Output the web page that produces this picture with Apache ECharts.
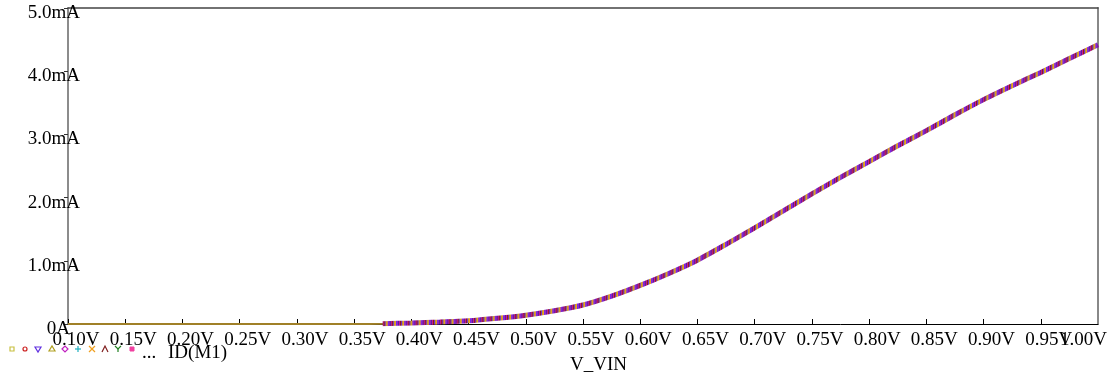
<!DOCTYPE html>
<html>
<head>
<meta charset="utf-8">
<script src="https://cdn.jsdelivr.net/npm/echarts@6/dist/echarts.min.js"></script>
<style>html,body{margin:0;padding:0;background:#fff}#c{width:1118px;height:381px}</style>
</head>
<body>
<div id="c"></div>
<script>
// Data (V_VIN in volts, ID(M1) in mA)
const vin = [0.10,0.15,0.20,0.25,0.30,0.35,0.375,0.40,0.425,0.45,0.475,0.50,0.525,0.55,0.575,0.60,0.625,0.65,0.675,0.70,0.725,0.75,0.775,0.80,0.825,0.85,0.875,0.90,0.925,0.95,0.975,1.00];
const idM1 = [0,0,0,0,0,0,0.005,0.015,0.03,0.05,0.09,0.14,0.21,0.30,0.44,0.61,0.80,1.01,1.26,1.52,1.79,2.06,2.32,2.57,2.82,3.06,3.31,3.55,3.77,3.98,4.20,4.42];
const markerStart = 0.375;
const traceName = 'ID(M1)';
const xTitle = 'V_VIN';
const lastTick = '1.00V';

const chart = echarts.init(document.getElementById('c'));
const FONT = 'Liberation Serif';
const lineData = vin.map((v,i)=>[v, idM1[i]]);
const markerData = lineData.filter(p => p[0] >= markerStart);

// multicolor band (style only)
const cols = ['#6a2cf0','#d01890','#1c8a2a','#c8a020','#2030c0','#a020c0','#20a0b0','#8a1a1a','#f0a020','#e040a0','#5020a0','#303030','#7030d0','#b02080'];
const stops = [];
const N = 700;
for (let i = 0; i <= N; i++) {
  stops.push({offset: i / N, color: cols[(i * 5 + (i >> 2)) % cols.length]});
}
const grad = new echarts.graphic.LinearGradient(380, 0, 1100, 0, stops, true);

const leg = [];
const lx = [12,25,38,52,65,78,92,105,118,132], ly = 349;
leg.push({type:'rect', shape:{x:lx[0]-2,y:ly-2,width:4,height:4}, style:{fill:'none',stroke:'#c8c040',lineWidth:1.2}});
leg.push({type:'circle', shape:{cx:lx[1],cy:ly,r:2}, style:{fill:'none',stroke:'#cc2020',lineWidth:1.2}});
leg.push({type:'polygon', shape:{points:[[lx[2]-3,ly-2],[lx[2]+3,ly-2],[lx[2],ly+3]]}, style:{fill:'none',stroke:'#6030e0',lineWidth:1.2}});
leg.push({type:'polygon', shape:{points:[[lx[3]-3,ly+2],[lx[3]+3,ly+2],[lx[3],ly-3]]}, style:{fill:'none',stroke:'#b0a020',lineWidth:1.2}});
leg.push({type:'polygon', shape:{points:[[lx[4]-3,ly],[lx[4],ly-3],[lx[4]+3,ly],[lx[4],ly+3]]}, style:{fill:'none',stroke:'#c020c0',lineWidth:1.2}});
leg.push({type:'polyline', shape:{points:[[lx[5]-3,ly],[lx[5]+3,ly]]}, style:{stroke:'#20b0c0',lineWidth:1.2}});
leg.push({type:'polyline', shape:{points:[[lx[5],ly-3],[lx[5],ly+3]]}, style:{stroke:'#20b0c0',lineWidth:1.2}});
leg.push({type:'polyline', shape:{points:[[lx[6]-3,ly-3],[lx[6]+3,ly+3]]}, style:{stroke:'#f0a020',lineWidth:1.2}});
leg.push({type:'polyline', shape:{points:[[lx[6]-3,ly+3],[lx[6]+3,ly-3]]}, style:{stroke:'#f0a020',lineWidth:1.2}});
leg.push({type:'polyline', shape:{points:[[lx[7]-3,ly+3],[lx[7],ly-3],[lx[7]+3,ly+3]]}, style:{stroke:'#802020',lineWidth:1.2,fill:'none'}});
leg.push({type:'polyline', shape:{points:[[lx[8]-3,ly-3],[lx[8],ly],[lx[8]+3,ly-3]]}, style:{stroke:'#208020',lineWidth:1.2,fill:'none'}});
leg.push({type:'polyline', shape:{points:[[lx[8],ly],[lx[8],ly+3]]}, style:{stroke:'#208020',lineWidth:1.2}});
leg.push({type:'rect', shape:{x:lx[9]-2,y:ly-2,width:4,height:4}, style:{fill:'#f040a0',stroke:'#f040a0',lineWidth:1}});
leg.push({type:'text', left:142, top:344, style:{text:'...', font:'19px "Liberation Serif"', fill:'#000'}});
leg.push({type:'text', left:168, top:344, style:{text:traceName, font:'19px "Liberation Serif"', fill:'#000'}});
leg.push({type:'text', left:570, top:356, style:{text:xTitle, font:'19px "Liberation Serif"', fill:'#000'}});
leg.push({type:'text', left:1060, top:331, style:{text:lastTick, font:'19px "Liberation Serif"', fill:'#000'}});

chart.setOption({
  animation:false,
  backgroundColor:'#fff',
  grid:{left:68, right:20, top:8, bottom:57, show:false},
  xAxis:[{
    type:'value', min:0.10, max:1.00, interval:0.05, position:'bottom',
    axisLine:{show:true, onZero:false, lineStyle:{color:'#000', width:1}},
    axisTick:{show:true, inside:true, length:5, lineStyle:{color:'#000'}},
    splitLine:{show:false},
    axisLabel:{
      margin:7, color:'#000', fontFamily:FONT, fontSize:19, showMaxLabel:false, showMinLabel:true, hideOverlap:false,
      formatter:function(v){ return '{n|'+v.toFixed(2)+'V}'; },
      rich:{n:{fontFamily:FONT,fontSize:19,color:'#000',padding:[0,0,0,16]}}
    }
  },{
    type:'value', min:0.10, max:1.00, position:'top',
    axisLine:{show:true, onZero:false, lineStyle:{color:'#444', width:1.5}},
    axisTick:{show:false}, axisLabel:{show:false}, splitLine:{show:false}
  }],
  yAxis:[{
    type:'value', min:0, max:5, interval:1, position:'left',
    axisLine:{show:true, onZero:false, lineStyle:{color:'#666', width:1.5}},
    axisTick:{show:true, inside:false, length:4, lineStyle:{color:'#333'}},
    splitLine:{show:false},
    axisLabel:{
      margin:-12, align:'right', color:'#000', fontFamily:FONT, fontSize:19,
      formatter:function(v){ return v===0 ? '{z|0A}' : '{n|'+v.toFixed(1)+'mA}'; },
      rich:{z:{fontFamily:FONT,fontSize:19,color:'#000',padding:[10,10,0,0]}, n:{fontFamily:FONT,fontSize:19,color:'#000',padding:[10,0,0,0]}}
    }
  },{
    type:'value', min:0, max:5, position:'right',
    axisLine:{show:true, onZero:false, lineStyle:{color:'#888', width:2}},
    axisTick:{show:false}, axisLabel:{show:false}, splitLine:{show:false}
  }],
  series:[{
    name:traceName, type:'line', data:lineData, showSymbol:false, smooth:0.2,
    lineStyle:{color:'#a08028', width:2}, z:3
  },{
    name:traceName+' markers', type:'line', data:markerData, showSymbol:false, smooth:0.2,
    lineStyle:{color:grad, width:5}, z:4
  }],
  graphic:leg
});
</script>
</body>
</html>
